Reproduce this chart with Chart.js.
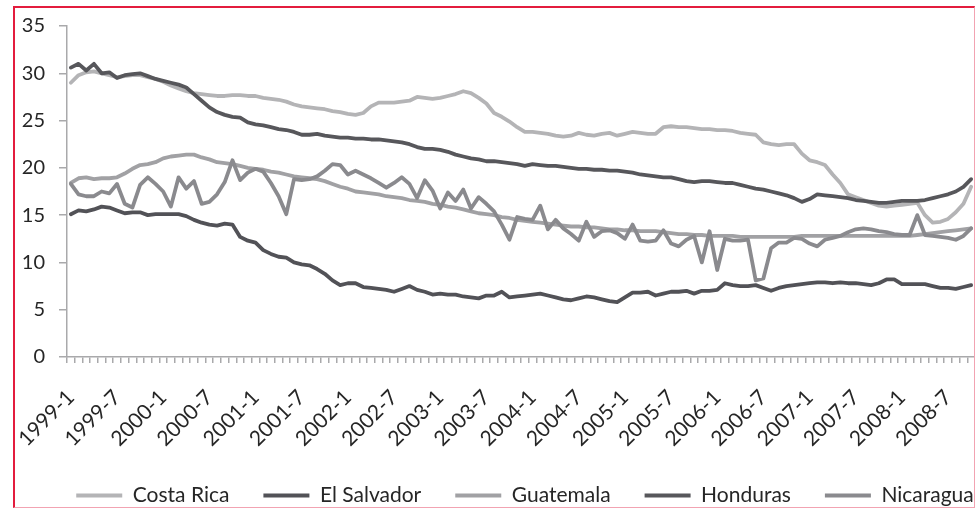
<!DOCTYPE html>
<html>
<head>
<meta charset="utf-8">
<script src="https://cdn.jsdelivr.net/npm/chart.js@4/dist/chart.umd.min.js"></script>
<style>
  html, body { margin: 0; padding: 0; background: #ffffff; overflow: hidden; width: 975px; height: 508px; }
  #frame { position: absolute; left: 13px; top: 6px; width: 962px; height: 502px; box-sizing: border-box;
           border-left: 2px solid #e31c3d; border-top: 2px solid #e31c3d;
           border-right: 1px solid #f2a3b2; border-bottom: 1px solid #f2a3b2; overflow: hidden; background: #fff; }
  #c { position: absolute; left: -15px; top: -8px; }
</style>
</head>
<body>
<div id="frame"><canvas id="c" width="1050" height="520" style="width:1050px;height:520px"></canvas></div>
<script>
// Category labels: monthly, 1999-1 .. 2008-10
const months = [];
for (let y = 1999; y <= 2008; y++) {
  for (let m = 1; m <= 12; m++) {
    if (y === 2008 && m > 10) break;
    months.push(y + '-' + m);
  }
}
const seriesNames = ['Costa Rica', 'El Salvador', 'Guatemala', 'Honduras', 'Nicaragua'];
const yTicks = [0, 5, 10, 15, 20, 25, 30, 35];

const costaRica = [
  29.0, 29.8, 30.1, 30.2, 30.0, 29.8, 29.6, 29.7, 29.8, 29.8, 29.6, 29.4,
  29.1, 28.7, 28.4, 28.1, 27.9, 27.8, 27.7, 27.6, 27.6, 27.7, 27.7, 27.6,
  27.6, 27.4, 27.3, 27.2, 27.0, 26.7, 26.5, 26.4, 26.3, 26.2, 26.0, 25.9,
  25.7, 25.6, 25.8, 26.5, 26.9, 26.9, 26.9, 27.0, 27.1, 27.5, 27.4, 27.3,
  27.4, 27.6, 27.8, 28.1, 27.9, 27.4, 26.8, 25.8, 25.4, 24.9, 24.3, 23.8,
  23.8, 23.7, 23.6, 23.4, 23.3, 23.4, 23.7, 23.5, 23.4, 23.6, 23.7, 23.4,
  23.6, 23.8, 23.7, 23.6, 23.6, 24.3, 24.4, 24.3, 24.3, 24.2, 24.1, 24.1,
  24.0, 24.0, 23.9, 23.7, 23.6, 23.5, 22.7, 22.5, 22.4, 22.5, 22.5, 21.5,
  20.8, 20.6, 20.3, 19.3, 18.4, 17.2, 16.9, 16.6, 16.3, 16.0, 15.9, 16.0,
  16.1, 16.2, 16.3, 15.0, 14.2, 14.3, 14.6, 15.3, 16.2, 18.0
];
const elSalvador = [
  15.1, 15.5, 15.4, 15.6, 15.9, 15.8, 15.5, 15.2, 15.3, 15.3, 15.0, 15.1,
  15.1, 15.1, 15.1, 14.9, 14.5, 14.2, 14.0, 13.9, 14.1, 14.0, 12.7, 12.3,
  12.1, 11.3, 10.9, 10.6, 10.5, 10.0, 9.8, 9.7, 9.3, 8.8, 8.1, 7.6,
  7.8, 7.8, 7.4, 7.3, 7.2, 7.1, 6.9, 7.2, 7.5, 7.1, 6.9, 6.6,
  6.7, 6.6, 6.6, 6.4, 6.3, 6.2, 6.5, 6.5, 6.9, 6.3, 6.4, 6.5,
  6.6, 6.7, 6.5, 6.3, 6.1, 6.0, 6.2, 6.4, 6.3, 6.1, 5.9, 5.8,
  6.3, 6.8, 6.8, 6.9, 6.5, 6.7, 6.9, 6.9, 7.0, 6.7, 7.0, 7.0,
  7.1, 7.8, 7.6, 7.5, 7.5, 7.6, 7.3, 7.0, 7.3, 7.5, 7.6, 7.7,
  7.8, 7.9, 7.9, 7.8, 7.9, 7.8, 7.8, 7.7, 7.6, 7.8, 8.2, 8.2,
  7.7, 7.7, 7.7, 7.7, 7.5, 7.3, 7.3, 7.2, 7.4, 7.6
];
const guatemala = [
  18.4, 18.9, 19.0, 18.8, 18.9, 18.9, 19.0, 19.4, 19.9, 20.3, 20.4, 20.6,
  21.0, 21.2, 21.3, 21.4, 21.4, 21.1, 20.9, 20.6, 20.5, 20.4, 20.2, 20.0,
  19.9, 19.8, 19.6, 19.5, 19.3, 19.1, 19.0, 18.9, 18.8, 18.6, 18.3, 18.0,
  17.8, 17.5, 17.4, 17.3, 17.2, 17.0, 16.9, 16.8, 16.6, 16.5, 16.4, 16.2,
  16.1, 15.9, 15.8, 15.6, 15.4, 15.2, 15.1, 15.0, 14.8, 14.7, 14.5, 14.4,
  14.3, 14.2, 14.1, 14.0, 13.9, 13.8, 13.8, 13.7, 13.7, 13.6, 13.5, 13.5,
  13.4, 13.4, 13.3, 13.3, 13.3, 13.2, 13.1, 13.0, 13.0, 12.9, 12.9, 12.8,
  12.8, 12.8, 12.8, 12.7, 12.7, 12.7, 12.7, 12.7, 12.7, 12.7, 12.7, 12.8,
  12.8, 12.8, 12.8, 12.8, 12.8, 12.8, 12.8, 12.8, 12.8, 12.8, 12.8, 12.8,
  12.8, 12.8, 12.9, 13.0, 13.1, 13.2, 13.3, 13.4, 13.5, 13.6
];
const honduras = [
  30.6, 31.0, 30.3, 31.0, 30.0, 30.1, 29.5, 29.8, 29.9, 30.0, 29.7, 29.4,
  29.2, 29.0, 28.8, 28.5, 27.8, 27.1, 26.4, 25.9, 25.6, 25.4, 25.3, 24.8,
  24.6, 24.5, 24.3, 24.1, 24.0, 23.8, 23.5, 23.5, 23.6, 23.4, 23.3, 23.2,
  23.2, 23.1, 23.1, 23.0, 23.0, 22.9, 22.8, 22.7, 22.5, 22.2, 22.0, 22.0,
  21.9, 21.7, 21.4, 21.2, 21.0, 20.9, 20.7, 20.7, 20.6, 20.5, 20.4, 20.2,
  20.4, 20.3, 20.2, 20.2, 20.1, 20.0, 19.9, 19.9, 19.8, 19.8, 19.7, 19.7,
  19.6, 19.5, 19.3, 19.2, 19.1, 19.0, 19.0, 18.8, 18.6, 18.5, 18.6, 18.6,
  18.5, 18.4, 18.4, 18.2, 18.0, 17.8, 17.7, 17.5, 17.3, 17.1, 16.8, 16.4,
  16.7, 17.2, 17.1, 17.0, 16.9, 16.8, 16.6, 16.5, 16.4, 16.3, 16.3, 16.4,
  16.5, 16.5, 16.5, 16.6, 16.8, 17.0, 17.2, 17.5, 18.0, 18.8
];
const nicaragua = [
  18.3, 17.2, 17.0, 17.0, 17.5, 17.3, 18.3, 16.2, 15.8, 18.2, 19.0, 18.3,
  17.5, 15.9, 19.0, 17.8, 18.6, 16.2, 16.4, 17.2, 18.5, 20.8, 18.7, 19.5,
  19.9, 19.6, 18.4, 17.0, 15.1, 18.8, 18.7, 18.8, 19.1, 19.7, 20.4, 20.3,
  19.3, 19.7, 19.3, 18.9, 18.4, 17.9, 18.4, 19.0, 18.3, 16.8, 18.7, 17.6,
  15.7, 17.4, 16.5, 17.7, 15.7, 16.9, 16.2, 15.4, 14.0, 12.4, 14.8, 14.6,
  14.5, 16.0, 13.5, 14.5, 13.6, 13.0, 12.3, 14.3, 12.7, 13.3, 13.4, 13.1,
  12.5, 14.0, 12.3, 12.2, 12.3, 13.4, 12.0, 11.7, 12.4, 12.8, 10.0, 13.3,
  9.2, 12.5, 12.3, 12.3, 12.4, 8.1, 8.3, 11.5, 12.1, 12.1, 12.6, 12.5,
  12.0, 11.7, 12.4, 12.6, 12.8, 13.2, 13.5, 13.6, 13.5, 13.3, 13.2, 13.0,
  12.9, 12.9, 15.0, 12.9, 12.8, 12.7, 12.6, 12.4, 12.8, 13.6
];

const seriesValues = [costaRica, elSalvador, guatemala, honduras, nicaragua];
const seriesColors = ['#b4b4b6', '#525257', '#a1a1a4', '#57575b', '#8a8a8e'];
const AXIS = '#a9a9ab';
const TEXT = '#262626';

const datasets = seriesNames.map((name, k) => ({
  label: name,
  data: seriesValues[k],
  borderColor: seriesColors[k],
  backgroundColor: seriesColors[k],
  borderWidth: 3.8,
  pointRadius: 0,
  tension: 0,
  fill: false,
  order: seriesNames.length - 1 - k,
  borderJoinStyle: 'round',
  borderCapStyle: 'round'
}));

new Chart(document.getElementById('c'), {
  type: 'line',
  data: { labels: months, datasets },
  options: {
    responsive: false,
    animation: false,
    devicePixelRatio: 1,
    layout: { padding: { left: 0, top: 18, right: 0, bottom: 4 } },
    plugins: {
      tooltip: { enabled: false },
      legend: {
        position: 'bottom',
        align: 'center',
        labels: {
          font: { family: 'Lato', size: 21 },
          color: TEXT,
          boxWidth: 46,
          boxHeight: 4,
          padding: 34,
          sort: (a, b) => a.datasetIndex - b.datasetIndex,
          generateLabels: (chart) => Chart.defaults.plugins.legend.labels.generateLabels(chart)
            .map(l => Object.assign(l, { lineWidth: 0 }))
        }
      }
    },
    scales: {
      x: {
        type: 'category',
        offset: true,
        border: { display: true, color: AXIS, width: 1.5 },
        grid: { display: true, drawOnChartArea: false, drawTicks: true, tickLength: 6, color: AXIS, lineWidth: 1.5, offset: true },
        ticks: {
          autoSkip: false, maxRotation: 45, minRotation: 45, padding: 22,
          font: { family: 'Lato', size: 21 }, color: TEXT,
          callback: function (v, i) { return i % 6 === 0 ? this.getLabelForValue(v) : ''; }
        },
        afterFit: (s) => { s.height = 94; }
      },
      y: {
        position: 'left',
        min: 0, max: 35,
        border: { display: true, color: AXIS, width: 1.5 },
        grid: { display: true, drawOnChartArea: false, drawTicks: true, tickLength: 8, color: AXIS, lineWidth: 1.5 },
        afterBuildTicks: (s) => { s.ticks = yTicks.map(v => ({ value: v })); },
        ticks: { padding: 14, font: { family: 'Lato', size: 20 }, color: TEXT },
        afterFit: (s) => { s.width = 63; }
      },
      y2: {
        position: 'right',
        display: true,
        border: { display: false },
        grid: { display: false, drawTicks: false },
        ticks: { display: false },
        afterFit: (s) => { s.width = 75; }
      }
    }
  }
});
</script>
</body>
</html>
